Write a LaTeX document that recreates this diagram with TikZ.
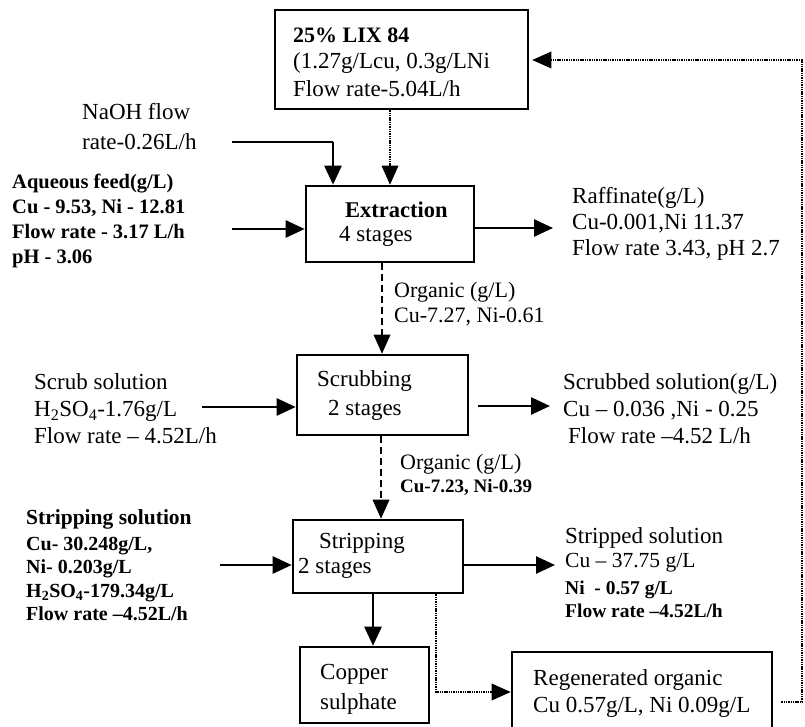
\documentclass[tikz,border=0pt]{standalone}
\usepackage{fontspec}
\setmainfont{Liberation Serif}
\usetikzlibrary{arrows.meta}
\begin{document}
\begin{tikzpicture}[x=1pt,y=-1pt,
  box/.style={draw,line width=2.6pt,inner sep=0pt},
  txt/.style={anchor=west,inner sep=0pt,align=left,font=\fontsize{23}{26}\selectfont},
  flow/.style={line width=2.6pt,-{Triangle[length=19pt,width=17pt]}},
  plain/.style={line width=2.6pt},
  dotl/.style={line width=1.6pt,dash pattern=on 1.4pt off 0.9pt},
  dotarrow/.style={dotl,-{Triangle[length=19pt,width=17pt,line width=0pt]}},
  dashl/.style={line width=2.4pt,dash pattern=on 7pt off 4pt,-{Triangle[length=19pt,width=17pt,line width=0pt]}},
]
\useasboundingbox (0,0) rectangle (805,727);
\fill[white] (0,0) rectangle (805,727);

% boxes
\node[box,minimum width=253pt,minimum height=99pt] (lix) at (401.5,59.5) {};
\node[box,minimum width=168pt,minimum height=76pt] (extr) at (390,224) {};
\node[box,minimum width=171pt,minimum height=80pt] (scrub) at (382.5,395) {};
\node[box,minimum width=170pt,minimum height=73pt] (strip) at (378,556.5) {};
\node[box,minimum width=129pt,minimum height=76pt] (copper) at (364.5,685) {};
\node[box,minimum width=260pt,minimum height=92pt] (regen) at (642,698) {};

% texts in boxes
\node[txt] (lixa) at (293,35) {\fontsize{22}{26}\selectfont\bfseries 25\% LIX 84};
\node[txt] (lixb) at (293,63) {(1.27g/Lcu, 0.3g/LNi};
\node[txt] (lixc) at (293,89) {Flow rate-5.04L/h};
\node[txt,font=\fontsize{22.5}{26}\selectfont\bfseries] (extra) at (345,210) {Extraction};
\node[txt] (extrb) at (339,236) {4 stages};
\node[txt] (scruba) at (317,381) {Scrubbing};
\node[txt] (scrubb) at (328,410) {2 stages};
\node[txt] (stripa) at (319,543) {Stripping};
\node[txt] (stripb) at (298,568) {2 stages};
\node[txt,font=\fontsize{23}{30}\selectfont] (coppt) at (320,689) {Copper\\sulphate};
\node[txt,font=\fontsize{23}{27}\selectfont] (regent) at (533,693) {Regenerated organic\\Cu 0.57g/L, Ni 0.09g/L};

% side texts
\node[txt,font=\fontsize{23}{30}\selectfont] (naoht) at (82,127) {NaOH flow\\rate-0.26L/h};
\node[txt,font=\fontsize{20.5}{25}\selectfont\bfseries] (aqt) at (12,221) {Aqueous feed(g/L)\\Cu - 9.53, Ni - 12.81\\Flow rate - 3.17 L/h\\pH - 3.06};
\node[txt] (raft) at (572,224) {Raffinate(g/L)\\Cu-0.001,Ni 11.37\\Flow rate 3.43, pH 2.7};
\node[txt,font=\fontsize{22}{25}\selectfont] (org1t) at (394,304) {Organic (g/L)\\Cu-7.27, Ni-0.61};
\node[txt,font=\fontsize{23}{27}\selectfont] (scrubst) at (34,409) {Scrub solution\\H\textsubscript{2}SO\textsubscript{4}-1.76g/L\\Flow rate -- 4.52L/h};
\node[txt,font=\fontsize{23}{27}\selectfont] (scrubdt) at (563,409) {Scrubbed solution(g/L)\\Cu -- 0.036 ,Ni - 0.25\\\hspace{5pt}Flow rate --4.52 L/h};
\node[txt,font=\fontsize{22}{25}\selectfont] (org2a) at (400,464) {Organic (g/L)};
\node[txt,font=\fontsize{19}{25}\selectfont\bfseries] (org2b) at (400,487) {Cu-7.23, Ni-0.39};
\node[txt,font=\fontsize{21.5}{25}\selectfont\bfseries] (ssa) at (26,519) {Stripping solution};
\node[txt,font=\fontsize{20}{23.5}\selectfont\bfseries] (ssb) at (26,579) {Cu- 30.248g/L,\\Ni- 0.203g/L\\H\textsubscript{2}SO\textsubscript{4}-179.34g/L\\Flow rate --4.52L/h};
\node[txt] (sda) at (565,538) {Stripped solution};
\node[txt,font=\fontsize{21.5}{25}\selectfont] (sdb) at (565,563) {Cu -- 37.75 g/L};
\node[txt,font=\fontsize{19.5}{23}\selectfont\bfseries] (sdc) at (565,599) {Ni\ \ - 0.57 g/L\\Flow rate --4.52L/h};

% free ends
\coordinate (naohin) at (232,142);
\coordinate (naohdn) at (333,142);
\coordinate (aqin) at (232,229);
\coordinate (rafout) at (553,228);
\coordinate (scrin) at (202,407);
\coordinate (scrout) at (550,406);
\coordinate (stin) at (220,565);
\coordinate (stout) at (555,565);
\coordinate (o1) at (382,0);
\coordinate (o2) at (381,0);
\coordinate (cu) at (373,0);
\coordinate (rg) at (436,692);
\coordinate (loopa) at (802,702);
\coordinate (loopb) at (802,60);

% connectors
\draw[plain] (naohin) -- (naohdn);
\draw[flow] (naohdn) -- (naohdn |- extr.north);
\draw[dotarrow] (extr.north |- lix.south) -- (extr.north);
\draw[flow] (aqin) -- (aqin -| extr.west);
\draw[flow] (extr.east |- rafout) -- (rafout);
\draw[dashl] (o1 |- extr.south) -- (o1 |- scrub.north);
\draw[flow] (scrin) -- (scrin -| scrub.west);
\draw[flow,shorten <=9pt] (scrub.east |- scrout) -- (scrout);
\draw[dashl] (o2 |- scrub.south) -- (o2 |- strip.north);
\draw[flow] (stin) -- (stin -| strip.west);
\draw[flow] (strip.east |- stout) -- (stout);
\draw[flow] (cu |- strip.south) -- (cu |- copper.north);
\draw[dotarrow] (rg |- strip.south) -- (rg) -- (rg -| regen.west);
\draw[dotarrow,shorten <=8pt,shorten >=3pt] (regen.east |- loopa) -- (loopa) -- (loopb) -- (lix.east |- loopb);
\end{tikzpicture}
\end{document}
